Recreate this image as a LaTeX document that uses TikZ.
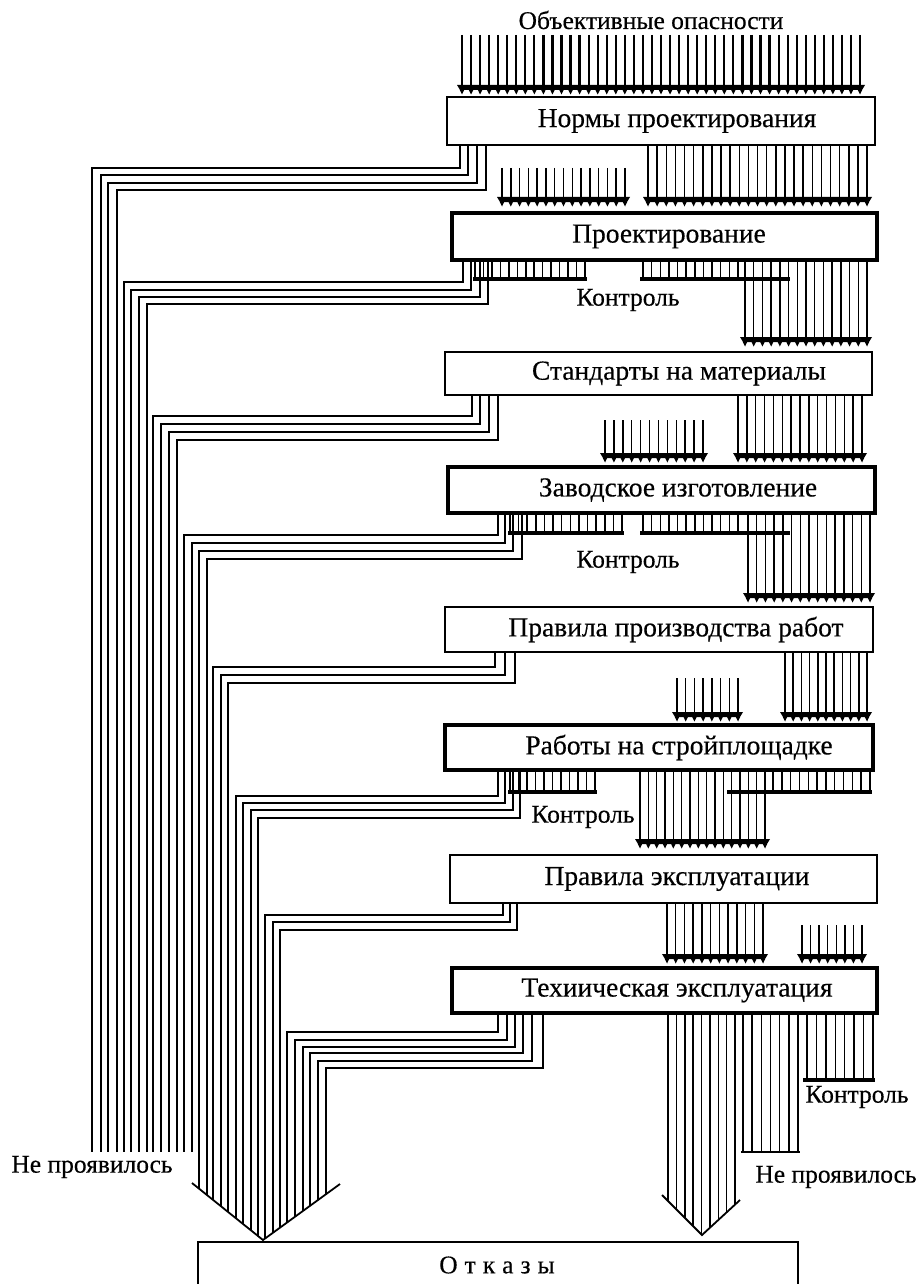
\documentclass[tikz,border=0pt]{standalone}
\usepackage{fontspec}
\setmainfont{Liberation Serif}
\newfontfamily\lblfont{Liberation Serif}[FakeBold=0.35]
\tikzset{
  hl/.style={line width=1.5pt},
  fl/.style={line width=1.7pt},
  thinbox/.style={draw, line width=1.8pt, fill=white, inner sep=0pt},
  thickbox/.style={draw, line width=4pt, fill=white, inner sep=0pt},
  lbl/.style={font=\lblfont\fontsize{25.5}{28}\selectfont, inner sep=0pt},
  blbl/.style={font=\lblfont\fontsize{27.5}{30}\selectfont, inner sep=0pt},
  cbar/.style={line width=3.5pt},
  varm/.style={line width=1.8pt},
}
\newcommand\hatchlines[5]{%
  \foreach \k in {1,...,#3}{%
    \pgfmathsetmacro\xx{#1+(#2-#1)/(#3-1)*(\k-1)}%
    \draw[hl] (\xx,#4) -- (\xx,#5);}}
\newcommand\headbar[4]{%
  \fill (#1-5,#4-3) -- (#2+5,#4-3) -- (#2+2,#4+2) -- (#1-2,#4+2) -- cycle;
  \foreach \k in {1,...,#3}{%
    \pgfmathsetmacro\xx{#1+(#2-#1)/(#3-1)*(\k-1)}%
    \fill (\xx-2.2,#4+2) -- (\xx+2.2,#4+2) -- (\xx,#4+6.5) -- cycle;}}
\newcommand\arrowgroup[5]{\hatchlines{#1}{#2}{#3}{#4}{#5}\headbar{#1}{#2}{#3}{#5}}
\newcommand\ctrlgroup[6]{\hatchlines{#1}{#2}{#3}{#4}{#5}\draw[cbar] (#6) -- (#2+2,#5);}
\begin{document}
\begin{tikzpicture}[x=1pt,y=-1pt]
\useasboundingbox (0,0) rectangle (917,1284);

% ---- failure lines to the left bundle
\foreach \xb/\yb/\yt/\xl in {
  460/145/168/92, 468/145/175/101, 477/145/183/108, 486/145/190/117,
  463/260/282/124, 471/260/290/131, 480/260/297/139, 488/260/304/147,
  472/395/416/153, 480/395/424/161, 489/395/432/169, 498/395/440/177,
  498/513/535/184, 505/513/543/192, 513/513/551/199, 522/513/559/207,
  495/652/667/213, 505/652/675/221, 515/652/683/228,
  498/770/796/236, 505/770/803/243, 513/770/810/251, 520/770/818/258,
  503/903/915/265, 510/903/922/273, 517/903/930/280,
  498/1013/1032/287, 507/1013/1040/295, 515/1013/1047/303, 523/1013/1053/310, 532/1013/1061/318, 543/1013/1068/326}{
  \pgfmathsetmacro\ye{\xl<198 ? 1152 : (\xl<=263 ? 1183+(\xl-192)*57/71 : 1240-(\xl-263)*56/77)}
  \draw[fl] (\xb,\yb) -- (\xb,\yt) -- (\xl,\yt) -- (\xl,\ye);
}

% ---- left failure arrow
\coordinate (vla) at (192,1183);
\coordinate (vlt) at (263,1240);
\coordinate (vlb) at (340,1184);
\draw[varm] (vla) -- (vlt) -- (vlb);

% ---- top hazards
\begin{scope}[hl/.style={line width=2.2pt}]
\arrowgroup{462}{860}{45}{35}{88}
\end{scope}
% ---- between boxes
\arrowgroup{648}{867}{25}{145}{200}
\arrowgroup{502}{625}{15}{168}{200}
\ctrlgroup{475}{585}{14}{260}{279}{473,279}
\ctrlgroup{643}{738}{12}{260}{279}{640,279}
\draw[cbar] (738,279) -- (790,279);
\arrowgroup{745}{867}{15}{260}{340}
\arrowgroup{738}{862}{15}{395}{456}
\arrowgroup{605}{703}{12}{420}{456}
\ctrlgroup{510}{622}{14}{513}{533}{508,533}
\ctrlgroup{643}{738}{12}{513}{533}{640,533}
\draw[cbar] (738,533) -- (790,533);
\arrowgroup{748}{870}{15}{513}{596}
\arrowgroup{785}{867}{11}{652}{715}
\arrowgroup{677}{738}{8}{678}{715}
\ctrlgroup{510}{595}{11}{770}{792}{508,792}
\ctrlgroup{773}{870}{12}{770}{792}{727,792}
\arrowgroup{640}{765}{16}{770}{842}
\arrowgroup{667}{763}{12}{903}{957}
\arrowgroup{802}{862}{8}{925}{957}

% ---- below last box
\foreach \k in {1,...,9}{%
  \pgfmathsetmacro\xx{668+(735-668)/8*(\k-1)}%
  \pgfmathsetmacro\ye{\xx<=702 ? 1195+(\xx-662) : 1235-(\xx-702)*35/38}%
  \draw[hl] (\xx,1013) -- (\xx,\ye);}
\coordinate (vra) at (662,1195);
\coordinate (vrt) at (702,1235);
\coordinate (vrb) at (740,1200);
\draw[varm] (vra) -- (vrt) -- (vrb);
\hatchlines{743}{798}{7}{1013}{1152}
\draw[hl] (741,1152) -- (800,1152);
\ctrlgroup{807}{873}{8}{1013}{1080}{803,1080}

% ---- boxes
\node[thinbox,  minimum width=428pt, minimum height=48pt] (b1) at (661,121) {};
\node[thickbox, minimum width=425pt, minimum height=47pt] (b2) at (664.5,236.5) {};
\node[thinbox,  minimum width=427pt, minimum height=43pt] (b3) at (658.5,373.5) {};
\node[thickbox, minimum width=427pt, minimum height=46pt] (b4) at (661.5,490) {};
\node[thinbox,  minimum width=428pt, minimum height=45pt] (b5) at (659,629.5) {};
\node[thickbox, minimum width=428pt, minimum height=45pt] (b6) at (659,747.5) {};
\node[thinbox,  minimum width=427pt, minimum height=48pt] (b7) at (663.5,879) {};
\node[thickbox, minimum width=425pt, minimum height=45pt] (b8) at (664.5,990.5) {};

\node[blbl] (t1) at (677,121) {Нормы проектирования};
\node[blbl] (t2) at (669,236.5) {Проектирование};
\node[blbl] (t3) at (679,373.5) {Стандарты на материалы};
\node[blbl] (t4) at (678,490) {Заводское изготовление};
\node[blbl] (t5) at (676,629.5) {Правила производства работ};
\node[blbl] (t6) at (679,747.5) {Работы на стройплощадке};
\node[blbl] (t7) at (677,879) {Правила эксплуатации};
\node[blbl] (t8) at (677,990.5) {Техиическая эксплуатация};

% ---- labels
\node[lbl] (haz) at (651,20) {Объективные опасности};
\node[lbl] (k1) at (628,300) {Контроль};
\node[lbl] (k2) at (628,562) {Контроль};
\node[lbl] (k3) at (583,817) {Контроль};
\node[lbl] (k4) at (857,1097) {Контроль};
\node[lbl] (np1) at (92,1167) {Не проявилось};
\node[lbl] (np2) at (836,1177) {Не проявилось};

% ---- failures box
\draw[line width=2pt] (198,1295) -- (198,1242) -- (798,1242) -- (798,1295);
\node[lbl] (otk) at (497,1265) {О\hspace{7pt}т\hspace{7pt}к\hspace{7pt}а\hspace{7pt}з\hspace{7pt}ы};
\end{tikzpicture}
\end{document}
